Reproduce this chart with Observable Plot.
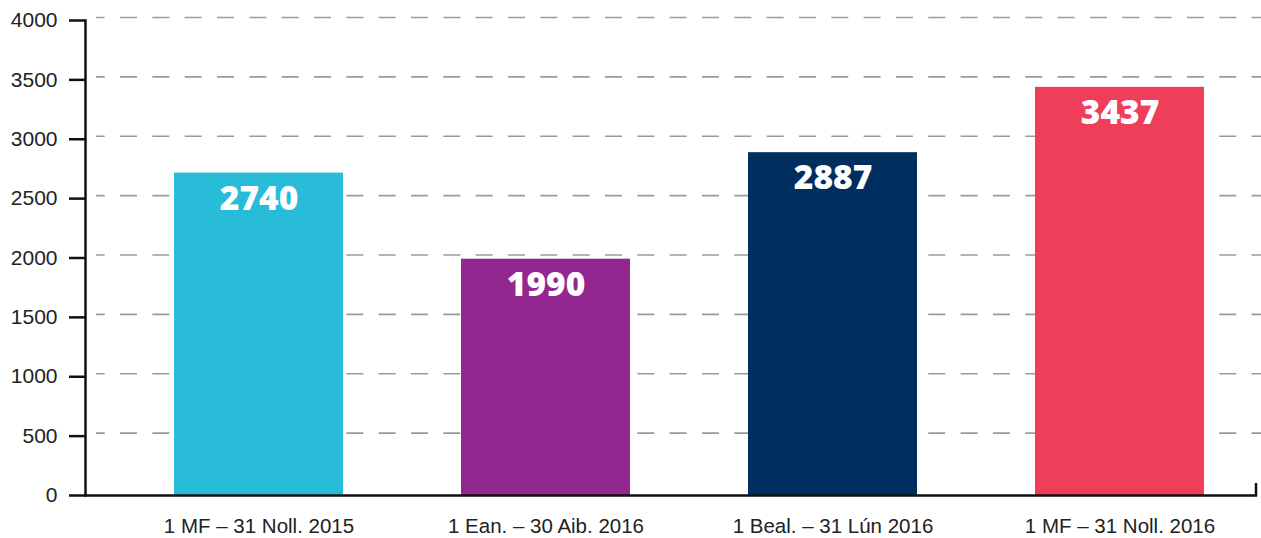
<!DOCTYPE html>
<html>
<head>
<meta charset="utf-8">
<script src="https://cdn.jsdelivr.net/npm/d3@7"></script>
<script src="https://cdn.jsdelivr.net/npm/@observablehq/plot@0.6"></script>
<style>
  html, body { margin: 0; padding: 0; background: #fff; }
  #chart svg { display: block; }
</style>
</head>
<body>
<div id="chart"></div>
<script>
const periods = ["1 MF – 31 Noll. 2015", "1 Ean. – 30 Aib. 2016", "1 Beal. – 31 Lún 2016", "1 MF – 31 Noll. 2016"];
const barValues = [2715, 1990, 2887, 3437];
const valueLabels = ["2740", "1990", "2887", "3437"];
const barColors = ["#29BCD8", "#92278F", "#002F5F", "#EF3E5A"];
const yTicks = [0, 500, 1000, 1500, 2000, 2500, 3000, 3500, 4000];
const gridTicks = yTicks.filter(d => d > 0);

const data = periods.map((p, i) => ({period: p, value: barValues[i], label: valueLabels[i]}));

const chart = Plot.plot({
  width: 1261,
  height: 538,
  marginLeft: 85,
  marginRight: 4,
  marginTop: 20,
  marginBottom: 43,
  style: {fontFamily: "Liberation Sans, Arial, sans-serif", background: "white", color: "#222"},
  x: {domain: periods, paddingInner: 0.41, paddingOuter: 0.24, align: 0.625, label: null},
  y: {domain: [0, 4000], label: null},
  color: {domain: periods, range: barColors},
  marks: [
    Plot.ruleY(gridTicks, {stroke: "#9a9a9a", strokeWidth: 1.6, strokeDasharray: "17,15.33", strokeDashoffset: 8.3, dy: -3, insetLeft: 11, insetRight: -4}),
    Plot.barY(data, {x: "period", y: "value", fill: "period"}),
    Plot.text(data, {x: "period", y: "value", text: "label", dy: 26, fill: "white", fontSize: 33.5, fontWeight: 800, fontFamily: "Open Sans, sans-serif"}),
    Plot.ruleY([0], {stroke: "#111", strokeWidth: 2.5}),
    Plot.frame({anchor: "left", stroke: "#111", strokeWidth: 2.5}),
    Plot.axisY({ticks: yTicks, tickSize: 16, tickPadding: 12, fontSize: 21, stroke: "#111", strokeWidth: 2.5, fill: "#222", label: null, tickFormat: d => String(d)}),
    Plot.axisX({tickSize: 0, tickPadding: 23, fontSize: 20.5, fill: "#222", label: null})
  ]
});

document.getElementById("chart").appendChild(chart);

// small upward tick closing the x axis at the end of the x range
const xr = chart.scale("x").range;
const yr = chart.scale("y").range;
d3.select(chart).append("line")
  .attr("x1", xr[1] - 1).attr("x2", xr[1] - 1)
  .attr("y1", yr[0] + 1.2).attr("y2", yr[0] - 12)
  .attr("stroke", "#111").attr("stroke-width", 2.5);
</script>
</body>
</html>
